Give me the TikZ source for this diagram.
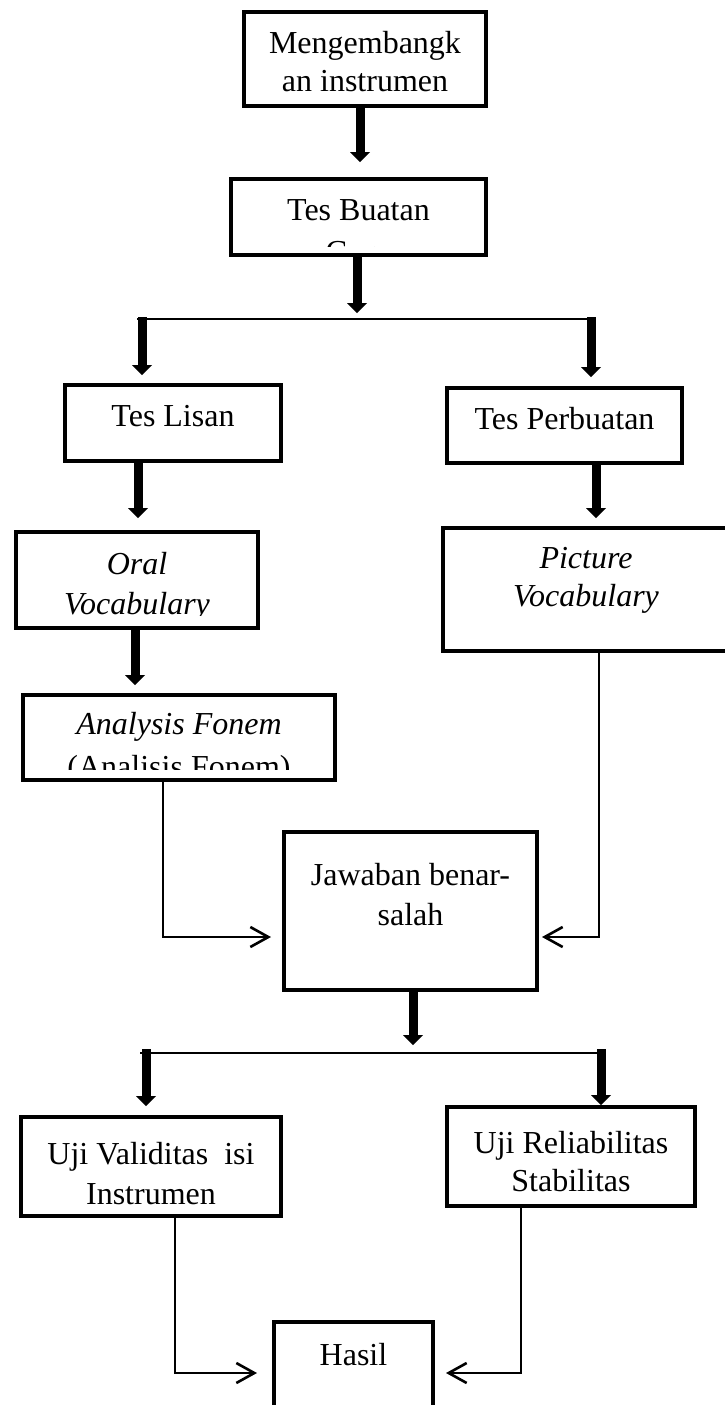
\documentclass[tikz,border=0pt]{standalone}
\usepackage{fontspec}
\setmainfont{Liberation Serif}
\usetikzlibrary{arrows.meta,calc}

\begin{document}
\begin{tikzpicture}[x=0.5pt, y=-0.5pt,
    box/.style={draw, line width=2.2pt, inner sep=0pt},
    boxtext/.style={align=center, inner sep=0pt, anchor=north, font=\fontsize{16}{20}\selectfont},
    slanted/.style={font=\fontsize{16}{20}\selectfont\itshape},
    fatarrow/.style={line width=4.5pt, -{Triangle[width=10pt, length=5pt, line width=0pt]}},
    thinarrow/.style={line width=1.3pt, -{Straight Barb[length=9pt, width=10pt]}},
    forkline/.style={line width=1.1pt}]

    \path[use as bounding box, fill=white] (0,0) rectangle (724,1405);

    % Mengembangkan instrumen
    \node[box, minimum width=120.8pt, minimum height=46.8pt] (instrumen) at (365,59) {};
    \node[boxtext] (instrumen-t) at (365,25) {\strut Mengembangk\\[-1pt]an instrumen};

    % Tes Buatan Guru (second line cut off by the box)
    \node[box, minimum width=127.3pt, minimum height=37.8pt] (buatan) at (358.5,217) {};
    \begin{scope}
        \clip (229,177) rectangle (488,246);
        \node[boxtext] (buatan-t) at (358.5,192) {\strut Tes Buatan\\[1pt]Guru};
    \end{scope}

    % Tes Lisan
    \node[box, minimum width=107.8pt, minimum height=37.8pt] (lisan) at (173,423) {};
    \node[boxtext] (lisan-t) at (173,398) {\strut Tes Lisan};

    % Tes Perbuatan
    \node[box, minimum width=117.3pt, minimum height=37.3pt] (perbuatan) at (564.5,425.5) {};
    \node[boxtext] (perbuatan-t) at (564.5,401) {\strut Tes Perbuatan};

    % Oral Vocabulary
    \node[box, minimum width=120.8pt, minimum height=47.8pt] (oral) at (137,580) {};
    \begin{scope}
        \clip (14,530) rectangle (260,615);
        \node[boxtext, slanted] (oral-t) at (137,546) {\strut Oral\\Vocabulary};
    \end{scope}

    % Picture Vocabulary
    \node[box, minimum width=142.8pt, minimum height=61.3pt] (picture) at (586,589.5) {};
    \node[boxtext, slanted] (picture-t) at (586,540) {\strut Picture\\[-1pt]Vocabulary};

    % Analysis Fonem
    \node[box, minimum width=155.8pt, minimum height=42.3pt] (fonem) at (179,737.5) {};
    \begin{scope}
        \clip (21,693) rectangle (337,769);
        \node[boxtext] (fonem-t) at (179,706) {\strut\textit{Analysis Fonem}\\[1.5pt](Analisis Fonem)};
    \end{scope}

    % Jawaban benar-salah
    \node[box, minimum width=126.3pt, minimum height=78.8pt] (jawaban) at (410.5,911) {};
    \node[boxtext] (jawaban-t) at (410.5,857) {\strut Jawaban benar-\\salah};

    % Uji Validitas isi Instrumen
    \node[box, minimum width=129.8pt, minimum height=49.3pt] (validitas) at (151,1166.5) {};
    \node[boxtext] (validitas-t) at (151,1136) {\strut Uji Validitas\ \ isi\\Instrumen};

    % Uji Reliabilitas Stabilitas
    \node[box, minimum width=123.8pt, minimum height=49.3pt] (reliabilitas) at (571,1156.5) {};
    \node[boxtext] (reliabilitas-t) at (571,1125) {\strut Uji Reliabilitas\\[-1pt]Stabilitas};

    % Hasil
    \node[box, minimum width=79.3pt, minimum height=43.8pt] (hasil) at (353.5,1366) {};
    \node[boxtext] (hasil-t) at (353.5,1337) {\strut Hasil};

    % forks
    \coordinate (fork1) at (357,319);
    \coordinate (fork1L) at (142,319);
    \coordinate (fork1R) at (591,319);
    \coordinate (fork2) at (413,1053);
    \coordinate (fork2L) at (146,1053);
    \coordinate (fork2R) at (601,1053);

    % top part
    \draw[fatarrow, shorten >=7.5pt] ($(instrumen.south)+(-5,0)$) -- ($(instrumen.south |- buatan.north)+(-5,0)$);
    \draw[fatarrow, shorten >=3pt] (buatan.south -| fork1) -- (fork1);
    \draw[forkline] ([xshift=-2.5pt]fork1L) -- (fork1R);
    \draw[fatarrow, shorten >=4pt] ([yshift=1pt]fork1L) -- (fork1L |- lisan.north);
    \draw[fatarrow, shorten >=4.5pt] ([yshift=1pt]fork1R) -- (fork1R |- perbuatan.north);

    % left column
    \draw[fatarrow, shorten >=6pt] ($(lisan.south)+(-35,0)$) -- ($(lisan.south |- oral.north)+(-35,0)$);
    \draw[fatarrow, shorten >=4pt] ($(oral.south)+(-2,0)$) -- ($(oral.south |- fonem.north)+(-2,0)$);
    \draw[thinarrow, shorten >=5.5pt] ($(fonem.south)+(-16,0)$) |- ($(jawaban.west)+(0,26)$);

    % right column
    \draw[fatarrow, shorten >=4pt] ($(perbuatan.south)+(31.5,0)$) -- ($(perbuatan.south |- picture.north)+(31.5,0)$);
    \draw[thinarrow, shorten >=1.5pt] ($(picture.south)+(13,0)$) |- ($(jawaban.east)+(0,26)$);

    % bottom part
    \draw[fatarrow, shorten >=4pt] (jawaban.south -| fork2) -- (fork2);
    \draw[forkline] ([xshift=-3pt]fork2L) -- (fork2R);
    \draw[fatarrow, shorten >=4.5pt] ([yshift=2pt]fork2L) -- (fork2L |- validitas.north);
    \draw[fatarrow] ([yshift=2pt]fork2R) -- (fork2R |- reliabilitas.north);
    \draw[thinarrow, shorten >=7.5pt] ($(validitas.south)+(24,0)$) |- ($(hasil.west)+(0,7)$);
    \draw[thinarrow, shorten >=5.5pt] ($(reliabilitas.south)+(-50,0)$) |- ($(hasil.east)+(0,7)$);

\end{tikzpicture}
\end{document}
